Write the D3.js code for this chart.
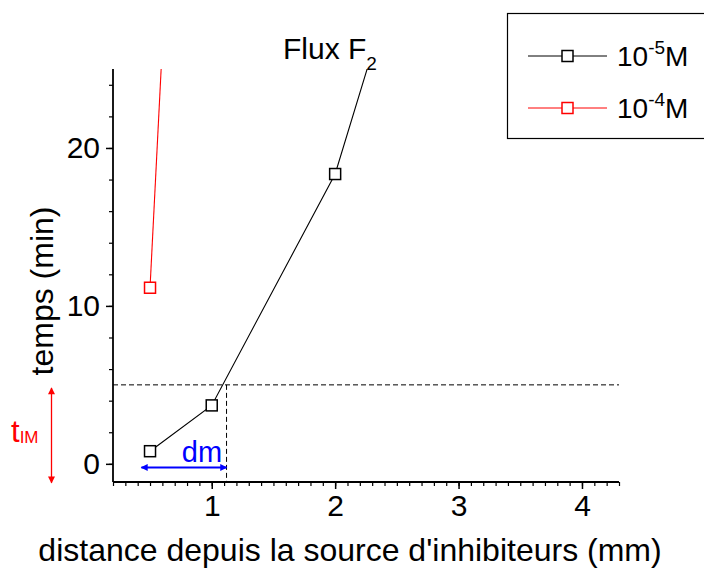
<!DOCTYPE html>
<html><head><meta charset="utf-8">
<script src="https://cdn.jsdelivr.net/npm/d3@7"></script>
<style>body{margin:0;background:#fff}svg{display:block;font-family:Arial,"Liberation Sans",sans-serif}</style>
</head><body><svg id="c" width="704" height="570"></svg>
<script>
// data
const seriesNames = ["10^-5M", "10^-4M"];
const seriesColors = ["#000000", "#ff0000"];
const blackX = [0.5, 1, 2, 3];
const blackY = [0.8, 3.7, 18.35, 44];
const redX = [0.5, 1];
const redY = [11.15, 88];
const xTicks = [1, 2, 3, 4];
const yTicks = [0, 10, 20];
const tIM = 5;       // horizontal dashed threshold (min)
const dm = 1.12;     // vertical dashed distance (mm)
const dmArrow = [0.43, 1.12];
const tArrow = [4.8, -1.2];

const svg = d3.select("#c");
const L = 113, R = 619, T = 69, B = 482;
const x = d3.scaleLinear().domain([0.2, 4.3]).range([L, R]);
const y = d3.scaleLinear().domain([-1.15, 25]).range([B, T]);

const defs = svg.append("defs");
defs.append("clipPath").attr("id", "clip").append("rect")
  .attr("x", L).attr("y", T).attr("width", R - L).attr("height", B - T);
function marker(id, color) {
  defs.append("marker").attr("id", id).attr("viewBox", "0 0 10 10")
    .attr("refX", 9).attr("refY", 5).attr("markerWidth", 9).attr("markerHeight", 7)
    .attr("markerUnits", "userSpaceOnUse").attr("orient", "auto-start-reverse")
    .append("path").attr("d", "M0,0L10,5L0,10Z").attr("fill", color);
}
marker("ab", "#0000ff"); marker("ar", "#ff0000");

// dashed guides
svg.append("line").attr("x1", L).attr("x2", R).attr("y1", y(tIM)).attr("y2", y(tIM))
  .attr("stroke", "#000").attr("stroke-width", 1).attr("stroke-dasharray", "5,3");
svg.append("line").attr("x1", x(dm)).attr("x2", x(dm)).attr("y1", y(tIM)).attr("y2", B)
  .attr("stroke", "#000").attr("stroke-width", 1).attr("stroke-dasharray", "5,3");

// axes
const xAxis = d3.axisBottom(x).tickValues(d3.range(2, 44).map(i => i / 10))
  .tickSize(4).tickFormat("");
const gx = svg.append("g").attr("transform", `translate(0,${B})`).call(xAxis);
gx.selectAll(".tick line").attr("stroke-width", 1.2);
const gx2 = svg.append("g").attr("transform", `translate(0,${B})`)
  .call(d3.axisBottom(x).tickValues(xTicks).tickSize(7).tickPadding(6).tickFormat(d3.format("d")));
gx2.select(".domain").remove();
gx2.selectAll(".tick line").attr("stroke-width", 1.5);
gx2.selectAll("text").attr("font-size", 30).attr("font-family", "Arial,'Liberation Sans'").attr("fill", "#000");
gx.select(".domain").attr("d", `M${L},0H${R}`).attr("stroke-width", 1.8);

const gy = svg.append("g").attr("transform", `translate(${L},0)`)
  .call(d3.axisLeft(y).tickValues(d3.range(0, 26, 2)).tickSize(4).tickFormat(""));
gy.select(".domain").attr("d", `M0,${T}V${B}`).attr("stroke-width", 1.8);
gy.selectAll(".tick line").attr("stroke-width", 1.2);
const gy2 = svg.append("g").attr("transform", `translate(${L},0)`)
  .call(d3.axisLeft(y).tickValues(yTicks).tickSize(7).tickPadding(6).tickFormat(d3.format("d")));
gy2.select(".domain").remove();
gy2.selectAll(".tick line").attr("stroke-width", 1.5);
gy2.selectAll("text").attr("font-size", 30).attr("font-family", "Arial,'Liberation Sans'").attr("fill", "#000");

// axis titles
svg.append("text").attr("x", 350).attr("y", 561).attr("text-anchor", "middle")
  .attr("font-size", 32).text("distance depuis la source d'inhibiteurs (mm)");
svg.append("text").attr("transform", "translate(53,291) rotate(-90)").attr("text-anchor", "middle")
  .attr("font-size", 32).text("temps (min)");

// title
const tt = svg.append("text").attr("x", 283).attr("y", 59).attr("font-size", 30);
tt.append("tspan").text("Flux F");
tt.append("tspan").attr("font-size", 19).attr("dy", 11).text("2");

// series
const line = d3.line().x(d => x(d[0])).y(d => y(d[1]));
const plot = svg.append("g").attr("clip-path", "url(#clip)");
const series = [
  d3.zip(blackX, blackY),
  d3.zip(redX, redY)
];
series.forEach((pts, i) => {
  plot.append("path").datum(pts).attr("d", line).attr("fill", "none")
    .attr("stroke", seriesColors[i]).attr("stroke-width", 1.1);
  plot.selectAll(null).data(pts).enter().append("rect")
    .attr("x", d => x(d[0]) - 5.5).attr("y", d => y(d[1]) - 5.5)
    .attr("width", 11).attr("height", 11).attr("fill", "#fff")
    .attr("stroke", seriesColors[i]).attr("stroke-width", 1.5);
});

// dm arrow
svg.append("line").attr("x1", x(dmArrow[0])).attr("x2", x(dmArrow[1]))
  .attr("y1", y(-0.23)).attr("y2", y(-0.23)).attr("stroke", "#0000ff").attr("stroke-width", 2)
  .attr("marker-start", "url(#ab)").attr("marker-end", "url(#ab)");
svg.append("text").attr("x", 202).attr("y", 462).attr("text-anchor", "middle")
  .attr("fill", "#0000ff").attr("font-size", 29).text("dm");

// tIM arrow
svg.append("line").attr("x1", 51.5).attr("x2", 51.5).attr("y1", y(tArrow[0])).attr("y2", y(tArrow[1]))
  .attr("stroke", "#ff0000").attr("stroke-width", 1.3)
  .attr("marker-start", "url(#ar)").attr("marker-end", "url(#ar)");
const tl = svg.append("text").attr("x", 11).attr("y", 442).attr("fill", "#ff0000").attr("font-size", 31);
tl.append("tspan").text("t");
tl.append("tspan").attr("font-size", 17).attr("dy", 1).text("IM");

// legend
svg.append("rect").attr("x", 507.5).attr("y", 13.5).attr("width", 210).attr("height", 125)
  .attr("fill", "none").attr("stroke", "#000").attr("stroke-width", 1.2);
const ly = [56, 108];
seriesNames.forEach((n, i) => {
  svg.append("line").attr("x1", 528).attr("x2", 607).attr("y1", ly[i]).attr("y2", ly[i])
    .attr("stroke", seriesColors[i]).attr("stroke-width", 1);
  svg.append("rect").attr("x", 562).attr("y", ly[i] - 5.5).attr("width", 11).attr("height", 11)
    .attr("fill", "#fff").attr("stroke", seriesColors[i]).attr("stroke-width", 1.5);
  const parts = n.split(/\^|(?=M$)/);
  const t = svg.append("text").attr("x", 617).attr("y", ly[i] + 10).attr("font-size", 28).attr("fill", "#000");
  t.append("tspan").text(parts[0]);
  t.append("tspan").attr("font-size", 19).attr("dy", -12).text(parts[1]);
  t.append("tspan").attr("dy", 12).text(parts[2]);
});
</script></body></html>
